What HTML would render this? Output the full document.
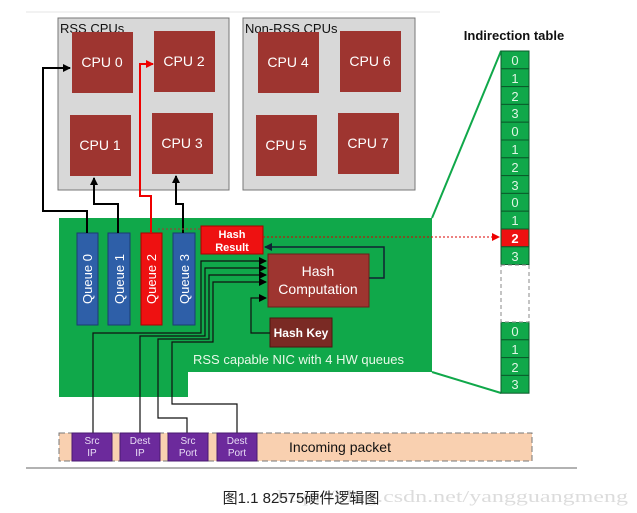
<!DOCTYPE html>
<html><head><meta charset="utf-8"><style>
body{margin:0;background:#fff;}
svg{display:block;font-family:"Liberation Sans",Arial,sans-serif;}
</style></head><body>
<svg width="637" height="513" viewBox="0 0 637 513" xmlns="http://www.w3.org/2000/svg">
<defs>
<marker id="ab" markerWidth="8" markerHeight="8" refX="7" refY="4" orient="auto" markerUnits="userSpaceOnUse"><path d="M0,0 L8,4 L0,8z" fill="#000"/></marker>
<marker id="ar" markerWidth="8" markerHeight="8" refX="7" refY="4" orient="auto" markerUnits="userSpaceOnUse"><path d="M0,0 L8,4 L0,8z" fill="#e00"/></marker>
<marker id="an" markerWidth="8" markerHeight="8" refX="7" refY="4" orient="auto" markerUnits="userSpaceOnUse"><path d="M0,0 L8,4 L0,8z" fill="#123"/></marker>
</defs>
<line x1="26" y1="12" x2="440" y2="12" stroke="#e4e4e4"/>
<rect x="58" y="18" width="171" height="172" fill="#d8d8d8" stroke="#777"/>
<rect x="243" y="18" width="172" height="172" fill="#d8d8d8" stroke="#777"/>
<text x="60" y="33" font-size="13" fill="#111">RSS CPUs</text>
<text x="245" y="33" font-size="13" fill="#111">Non-RSS CPUs</text>
<g fill="#9e3530">
<rect x="72" y="32" width="61" height="61"/><rect x="154" y="31" width="61" height="61"/>
<rect x="70" y="115" width="61" height="61"/><rect x="152" y="113" width="61" height="61"/>
<rect x="258" y="32" width="61" height="61"/><rect x="340" y="31" width="61" height="61"/>
<rect x="256" y="115" width="61" height="61"/><rect x="338" y="113" width="61" height="61"/>
</g>
<g fill="#fff" font-size="14" text-anchor="middle">
<text x="102" y="67">CPU 0</text><text x="184" y="66">CPU 2</text>
<text x="100" y="150">CPU 1</text><text x="182" y="148">CPU 3</text>
<text x="288" y="67">CPU 4</text><text x="370" y="66">CPU 6</text>
<text x="286" y="150">CPU 5</text><text x="368" y="148">CPU 7</text>
</g>
<path d="M59,218 H432 V372 H188 V397 H59Z" fill="#10a84a"/>
<line x1="432" y1="218" x2="501" y2="51" stroke="#10a84a" stroke-width="2"/>
<line x1="432" y1="372" x2="501" y2="393" stroke="#10a84a" stroke-width="2"/>
<rect x="77" y="233" width="21" height="92" fill="#2e5fa8" stroke="#1b3d70"/>
<rect x="108" y="233" width="22" height="92" fill="#2e5fa8" stroke="#1b3d70"/>
<rect x="141" y="233" width="21" height="92" fill="#ee1111" stroke="#a00"/>
<rect x="173" y="233" width="22" height="92" fill="#2e5fa8" stroke="#1b3d70"/>
<g fill="#fff" font-size="13">
<text transform="translate(92,279) rotate(-90)" text-anchor="middle">Queue 0</text>
<text transform="translate(124,279) rotate(-90)" text-anchor="middle">Queue 1</text>
<text transform="translate(156,279) rotate(-90)" text-anchor="middle">Queue 2</text>
<text transform="translate(189,279) rotate(-90)" text-anchor="middle">Queue 3</text>
</g>
<g fill="none" stroke-width="2">
<path d="M87,233 V211 H43 V68 H70" stroke="#000" marker-end="url(#ab)"/>
<path d="M118,233 V204 H94 V178" stroke="#000" marker-end="url(#ab)"/>
<path d="M151,233 V196 H140 V64 H153" stroke="#e00" marker-end="url(#ar)"/>
<path d="M183,233 V204 H176 V176" stroke="#000" marker-end="url(#ab)"/>
</g>
<line x1="158" y1="229" x2="201" y2="229" stroke="#a33" stroke-dasharray="2,2"/>
<rect x="201" y="226" width="62" height="28" fill="#ee1111" stroke="#a00"/>
<text x="232" y="238" font-size="11" font-weight="bold" fill="#fff" text-anchor="middle">Hash</text>
<text x="232" y="251" font-size="11" font-weight="bold" fill="#fff" text-anchor="middle">Result</text>
<rect x="268" y="254" width="101" height="53" fill="#9e3530" stroke="#6b1f1b"/>
<text x="318" y="276" font-size="14" fill="#fff" text-anchor="middle">Hash</text>
<text x="318" y="294" font-size="14" fill="#fff" text-anchor="middle">Computation</text>
<rect x="270" y="318" width="62" height="29" fill="#7a2a24" stroke="#4d1510"/>
<text x="301" y="337" font-size="12" font-weight="bold" fill="#fff" text-anchor="middle">Hash Key</text>
<line x1="263" y1="237" x2="499" y2="237" stroke="#d00" stroke-dasharray="2,2" marker-end="url(#ar)"/>
<path d="M369,278 H384 V247 H265" fill="none" stroke="#123" stroke-width="1.5" marker-end="url(#an)"/>
<path d="M270,333 H251 V298 H266" fill="none" stroke="#111" stroke-width="1.2" marker-end="url(#ab)"/>
<g fill="none" stroke="#111" stroke-width="1.2">
<path d="M93,433 V333 H201 V261 H266" marker-end="url(#ab)"/>
<path d="M140,433 V336 H205 V268 H266" marker-end="url(#ab)"/>
<path d="M187,433 V418 H158 V339 H209 V275 H266" marker-end="url(#ab)"/>
<path d="M237,433 V404 H172 V342 H213 V282 H266" marker-end="url(#ab)"/>
</g>
<text x="193" y="364" font-size="13" fill="#e8f8e8">RSS capable NIC with 4 HW queues</text>
<text x="514" y="40" font-size="13" font-weight="bold" fill="#111" text-anchor="middle">Indirection table</text>
<g font-size="13" text-anchor="middle">
<g fill="#10a84a" stroke="#0a5a2a">
<rect x="501" y="51" width="28" height="17.8"/><rect x="501" y="68.8" width="28" height="17.8"/>
<rect x="501" y="86.6" width="28" height="17.8"/><rect x="501" y="104.4" width="28" height="17.8"/>
<rect x="501" y="122.2" width="28" height="17.8"/><rect x="501" y="140" width="28" height="17.8"/>
<rect x="501" y="157.8" width="28" height="17.8"/><rect x="501" y="175.6" width="28" height="17.8"/>
<rect x="501" y="193.4" width="28" height="17.8"/><rect x="501" y="211.2" width="28" height="17.8"/>
<rect x="501" y="229" width="28" height="17.8" fill="#ee1111"/><rect x="501" y="246.8" width="28" height="17.8"/>
<rect x="501" y="322" width="28" height="17.8"/><rect x="501" y="339.8" width="28" height="17.8"/>
<rect x="501" y="357.6" width="28" height="17.8"/><rect x="501" y="375.4" width="28" height="17.8"/>
</g>
<g fill="#dff5e4">
<text x="515" y="65">0</text><text x="515" y="83">1</text><text x="515" y="101">2</text><text x="515" y="118">3</text>
<text x="515" y="136">0</text><text x="515" y="154">1</text><text x="515" y="172">2</text><text x="515" y="190">3</text>
<text x="515" y="207">0</text><text x="515" y="225">1</text><text x="515" y="243" fill="#fff" font-weight="bold">2</text><text x="515" y="261">3</text>
<text x="515" y="336">0</text><text x="515" y="354">1</text><text x="515" y="372">2</text><text x="515" y="389">3</text>
</g>
</g>
<rect x="501" y="265" width="28" height="57" fill="#fff" stroke="#888" stroke-dasharray="4,3"/>
<rect x="59" y="433" width="473" height="28" fill="#f9d0b0" stroke="#777" stroke-dasharray="6,3"/>
<g fill="#6c2a9c" stroke="#4a1a70">
<rect x="72" y="433" width="40" height="28"/><rect x="120" y="433" width="40" height="28"/>
<rect x="168" y="433" width="40" height="28"/><rect x="217" y="433" width="40" height="28"/>
</g>
<g fill="#e8dcf5" font-size="10" text-anchor="middle">
<text x="92" y="444">Src</text><text x="92" y="456">IP</text>
<text x="140" y="444">Dest</text><text x="140" y="456">IP</text>
<text x="188" y="444">Src</text><text x="188" y="456">Port</text>
<text x="237" y="444">Dest</text><text x="237" y="456">Port</text>
</g>
<text x="340" y="452" font-size="14" fill="#111" text-anchor="middle">Incoming packet</text>
<line x1="26" y1="468" x2="577" y2="468" stroke="#666"/>
<text x="277" y="502" font-size="17" fill="#dcdcdc" textLength="351" lengthAdjust="spacingAndGlyphs" font-family="Liberation Serif, serif">http://blog.csdn.net/yangguangmeng</text>
<text x="301" y="503" font-size="15" fill="#222" text-anchor="middle" font-family="Liberation Sans, Noto Sans CJK SC, sans-serif">图1.1 82575硬件逻辑图</text>
</svg>
</body></html>
